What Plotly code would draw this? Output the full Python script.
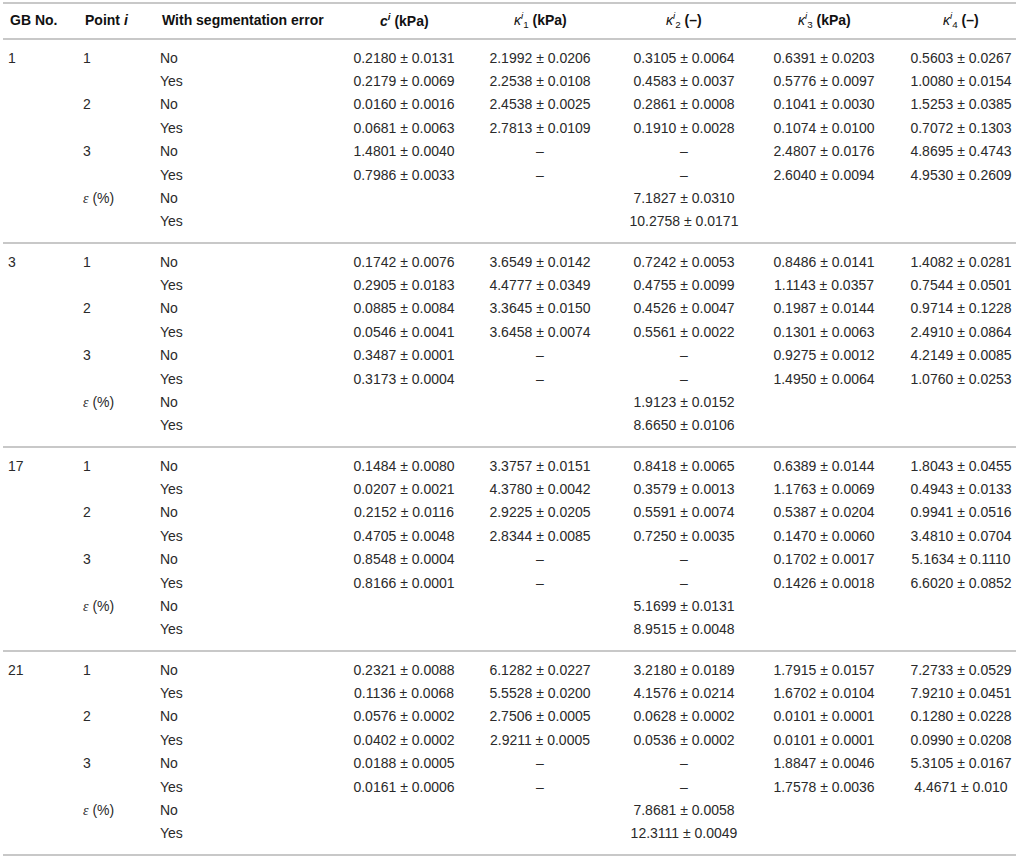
import plotly.graph_objects as go

# ---- table content ----
gb_numbers = ["1", "3", "17", "21"]
point_labels = ["1", "", "2", "", "3", "", "ε (%)", ""]
seg_labels = ["No", "Yes", "No", "Yes", "No", "Yes", "No", "Yes"]

header_labels = [
    "<b>GB No.</b>",
    "<b>Point <i>i</i></b>",
    "<b>With segmentation error</b>",
    "<b><i>c</i><sup><i>i</i></sup> (kPa)</b>",
    "<i>κ</i><sup><i>i</i></sup><sub>1</sub><b> (kPa)</b>",
    "<i>κ</i><sup><i>i</i></sup><sub>2</sub><b> (–)</b>",
    "<i>κ</i><sup><i>i</i></sup><sub>3</sub><b> (kPa)</b>",
    "<i>κ</i><sup><i>i</i></sup><sub>4</sub><b> (–)</b>",
]

c_vals = [
    "0.2180 ± 0.0131", "0.2179 ± 0.0069", "0.0160 ± 0.0016", "0.0681 ± 0.0063",
    "1.4801 ± 0.0040", "0.7986 ± 0.0033", "", "",
    "0.1742 ± 0.0076", "0.2905 ± 0.0183", "0.0885 ± 0.0084", "0.0546 ± 0.0041",
    "0.3487 ± 0.0001", "0.3173 ± 0.0004", "", "",
    "0.1484 ± 0.0080", "0.0207 ± 0.0021", "0.2152 ± 0.0116", "0.4705 ± 0.0048",
    "0.8548 ± 0.0004", "0.8166 ± 0.0001", "", "",
    "0.2321 ± 0.0088", "0.1136 ± 0.0068", "0.0576 ± 0.0002", "0.0402 ± 0.0002",
    "0.0188 ± 0.0005", "0.0161 ± 0.0006", "", "",
]
k1_vals = [
    "2.1992 ± 0.0206", "2.2538 ± 0.0108", "2.4538 ± 0.0025", "2.7813 ± 0.0109",
    "–", "–", "", "",
    "3.6549 ± 0.0142", "4.4777 ± 0.0349", "3.3645 ± 0.0150", "3.6458 ± 0.0074",
    "–", "–", "", "",
    "3.3757 ± 0.0151", "4.3780 ± 0.0042", "2.9225 ± 0.0205", "2.8344 ± 0.0085",
    "–", "–", "", "",
    "6.1282 ± 0.0227", "5.5528 ± 0.0200", "2.7506 ± 0.0005", "2.9211 ± 0.0005",
    "–", "–", "", "",
]
k2_vals = [
    "0.3105 ± 0.0064", "0.4583 ± 0.0037", "0.2861 ± 0.0008", "0.1910 ± 0.0028",
    "–", "–", "7.1827 ± 0.0310", "10.2758 ± 0.0171",
    "0.7242 ± 0.0053", "0.4755 ± 0.0099", "0.4526 ± 0.0047", "0.5561 ± 0.0022",
    "–", "–", "1.9123 ± 0.0152", "8.6650 ± 0.0106",
    "0.8418 ± 0.0065", "0.3579 ± 0.0013", "0.5591 ± 0.0074", "0.7250 ± 0.0035",
    "–", "–", "5.1699 ± 0.0131", "8.9515 ± 0.0048",
    "3.2180 ± 0.0189", "4.1576 ± 0.0214", "0.0628 ± 0.0002", "0.0536 ± 0.0002",
    "–", "–", "7.8681 ± 0.0058", "12.3111 ± 0.0049",
]
k3_vals = [
    "0.6391 ± 0.0203", "0.5776 ± 0.0097", "0.1041 ± 0.0030", "0.1074 ± 0.0100",
    "2.4807 ± 0.0176", "2.6040 ± 0.0094", "", "",
    "0.8486 ± 0.0141", "1.1143 ± 0.0357", "0.1987 ± 0.0144", "0.1301 ± 0.0063",
    "0.9275 ± 0.0012", "1.4950 ± 0.0064", "", "",
    "0.6389 ± 0.0144", "1.1763 ± 0.0069", "0.5387 ± 0.0204", "0.1470 ± 0.0060",
    "0.1702 ± 0.0017", "0.1426 ± 0.0018", "", "",
    "1.7915 ± 0.0157", "1.6702 ± 0.0104", "0.0101 ± 0.0001", "0.0101 ± 0.0001",
    "1.8847 ± 0.0046", "1.7578 ± 0.0036", "", "",
]
k4_vals = [
    "0.5603 ± 0.0267", "1.0080 ± 0.0154", "1.5253 ± 0.0385", "0.7072 ± 0.1303",
    "4.8695 ± 0.4743", "4.9530 ± 0.2609", "", "",
    "1.4082 ± 0.0281", "0.7544 ± 0.0501", "0.9714 ± 0.1228", "2.4910 ± 0.0864",
    "4.2149 ± 0.0085", "1.0760 ± 0.0253", "", "",
    "1.8043 ± 0.0455", "0.4943 ± 0.0133", "0.9941 ± 0.0516", "3.4810 ± 0.0704",
    "5.1634 ± 0.1110", "6.6020 ± 0.0852", "", "",
    "7.2733 ± 0.0529", "7.9210 ± 0.0451", "0.1280 ± 0.0228", "0.0990 ± 0.0208",
    "5.3105 ± 0.0167", "4.4671 ± 0.010", "", "",
]

# ---- layout constants (pixels) ----
W, H = 1016, 856
left_cols = [8, 83, 160]               # left edges of text columns
value_cols = [404, 540, 684, 824, 961]  # centres of numeric columns
HEADER_Y = 20
FIRST_ROW_Y = 59
ROW_PITCH = 23.4
GROUP_PITCH = 204
RULE_COLOR = "#c8c8c8"
TEXT_COLOR = "#2a2a2a"
FONT = "Liberation Sans, Arial, sans-serif"
SIZE = 14

rows_per_group = len(seg_labels)
n_rows = rows_per_group * len(gb_numbers)
row_y = [FIRST_ROW_Y + (r // rows_per_group) * GROUP_PITCH + (r % rows_per_group) * ROW_PITCH
         for r in range(n_rows)]

gb_col = []
for g in gb_numbers:
    gb_col += [g] + [""] * (rows_per_group - 1)
point_col = []
for _ in gb_numbers:
    point_col += [p if p != "ε (%)" else
                  "<span style='font-family:Liberation Serif'><i>ε</i></span> (%)"
                  for p in point_labels]
seg_col = seg_labels * len(gb_numbers)


def add_column(fig, x, col, position):
    keep = [i for i, t in enumerate(col) if t]
    fig.add_trace(go.Scatter(
        x=[x] * len(keep), y=[row_y[i] for i in keep], text=[col[i] for i in keep],
        mode="text", textposition=position,
        textfont=dict(family=FONT, size=SIZE, color=TEXT_COLOR),
        hoverinfo="skip", showlegend=False,
    ))


fig = go.Figure()

for x, col in zip(left_cols, [gb_col, point_col, seg_col]):
    add_column(fig, x, col, "middle right")

for x, col in zip(value_cols, [c_vals, k1_vals, k2_vals, k3_vals, k4_vals]):
    add_column(fig, x, col, "middle center")

# header
for i, label in enumerate(header_labels):
    if i < len(left_cols):
        x, anchor = left_cols[i], "left"
    else:
        x, anchor = value_cols[i - len(left_cols)], "center"
    fig.add_annotation(x=x, y=HEADER_Y, xref="x", yref="y", text=label,
                       showarrow=False, xanchor=anchor, yanchor="middle",
                       font=dict(family=FONT, size=SIZE, color="#111111"))

# horizontal rules
rules = [3, 39] + [FIRST_ROW_Y + (g + 1) * GROUP_PITCH - 20 for g in range(len(gb_numbers))]
for y in rules:
    fig.add_shape(type="line", xref="x", yref="y", x0=3, x1=W, y0=y, y1=y,
                  line=dict(color=RULE_COLOR, width=2))

fig.update_xaxes(range=[0, W], visible=False, fixedrange=True)
fig.update_yaxes(range=[H, 0], visible=False, fixedrange=True)
fig.update_layout(width=W, height=H, margin=dict(l=0, r=0, t=0, b=0),
                  plot_bgcolor="white", paper_bgcolor="white")

fig.write_html("out.html", config={"displayModeBar": False},
               post_script="document.body.style.margin='0';document.body.style.overflow='hidden';")
